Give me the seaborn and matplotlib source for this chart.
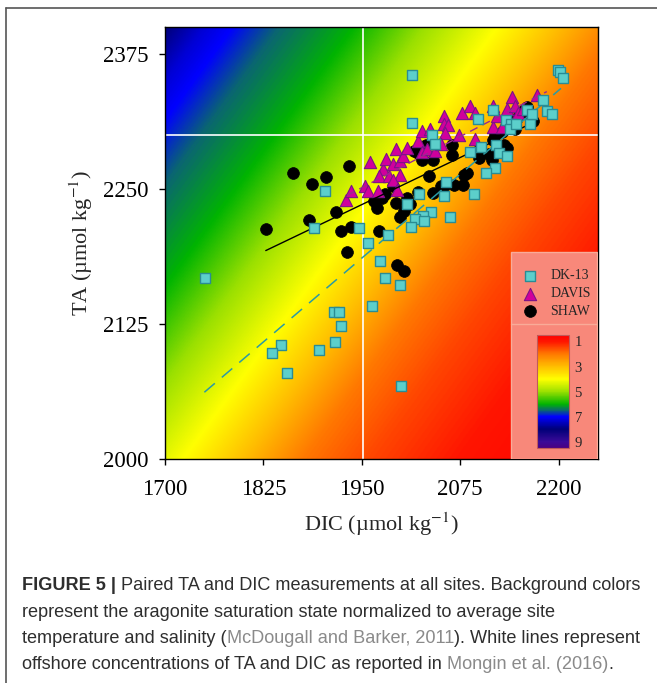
import numpy as np
import pandas as pd
import matplotlib
matplotlib.use("Agg")
import matplotlib.pyplot as plt
import seaborn as sns
from matplotlib.colors import LinearSegmentedColormap, Normalize
from matplotlib.cm import ScalarMappable
from matplotlib.patches import Rectangle
from matplotlib.lines import Line2D

# ---- data (DIC, TA in umol/kg) ----
dk13_dic = [1751, 2014, 2014, 2199, 2202, 2206, 2180, 2185, 2192, 2164, 2160, 2166,
            2117, 2133, 2139, 2138, 2146, 2097, 2039, 2043, 2102, 2087, 2121, 2124,
            2135, 2119, 2108, 2057, 2054, 2093, 2022, 2008, 2038, 2028, 2018, 2029,
            2013, 2062, 1983, 1946, 1903, 1889, 1958, 1973, 1980, 1998, 1963, 1915,
            1921, 1923, 1916, 1896, 1847, 1836, 1855, 2000]
dk13_ta = [2168, 2355, 2311, 2360, 2358, 2353, 2332, 2322, 2319, 2310, 2323, 2319,
           2323, 2314, 2310, 2305, 2310, 2315, 2300, 2292, 2289, 2284, 2291, 2283,
           2280, 2269, 2265, 2256, 2243, 2245, 2245, 2236, 2229, 2225, 2222, 2220,
           2215, 2224, 2207, 2214, 2248, 2214, 2200, 2183, 2168, 2161, 2142, 2136,
           2136, 2123, 2108, 2101, 2106, 2098, 2080, 2068]

davis_dic = [1930, 1936, 1954, 1958, 1971, 1960, 1977, 1972, 1985, 1981, 1990, 1994,
             1999, 2002, 1999, 1990, 1995, 2008, 2021, 2026, 2037, 2026, 2033, 2043,
             2055, 2054, 2060, 2056, 2073, 2077, 2088, 2094, 2094, 2117, 2116, 2128,
             2134, 2141, 2144, 2148, 2155, 2172, 2122, 2050]
davis_ta = [2240, 2248, 2253, 2248, 2248, 2275, 2268, 2262, 2262, 2278, 2273, 2287,
            2276, 2280, 2263, 2258, 2249, 2288, 2294, 2304, 2305, 2284, 2287, 2285,
            2317, 2310, 2309, 2302, 2300, 2320, 2327, 2320, 2296, 2327, 2307, 2307,
            2324, 2335, 2327, 2320, 2324, 2337, 2317, 2292]

shaw_dic = [1828, 1862, 1887, 1905, 1934, 1883, 1917, 1924, 1936, 1931, 1972, 1966,
            1969, 1975, 1979, 1994, 2003, 1999, 2007, 2011, 1995, 2004, 2021, 2041,
            2035, 2027, 2041, 2021, 2032, 2064, 2065, 2051, 2055, 2067, 2078, 2080,
            2083, 2099, 2100, 2115, 2117, 2119, 2130, 2134, 2128, 2144, 2147, 2160,
            2162, 2167, 2155, 2111, 1990, 2016]
shaw_ta = [2213, 2265, 2255, 2261, 2271, 2221, 2229, 2211, 2215, 2192, 2211, 2239,
           2232, 2242, 2245, 2237, 2230, 2224, 2242, 2236, 2180, 2174, 2247, 2246,
           2262, 2277, 2277, 2283, 2291, 2291, 2281, 2253, 2253, 2254, 2254, 2263,
           2265, 2279, 2288, 2277, 2295, 2300, 2291, 2288, 2303, 2305, 2316, 2326,
           2319, 2313, 2322, 2282, 2253, 2285]

# regression lines as drawn in the figure (end points)
dk13_fit_dic = [1750, 2203]
dk13_fit_ta = [2062, 2343]
davis_fit_dic = [1931, 2185]
davis_fit_ta = [2244, 2340]
shaw_fit_dic = [1828, 2158]
shaw_fit_ta = [2193, 2308]

# offshore TA / DIC (white lines)
offshore_dic = 1952
offshore_ta = 2300

# aragonite saturation state against TA - DIC (background)
omega_excess = [-250, -75, 40, 125, 200, 277, 370, 460, 555, 615, 650, 700]
omega_level = [0.5, 1.0, 1.5, 2.0, 3.0, 4.0, 5.0, 6.0, 6.5, 7.0, 7.3, 8.0]

omega_stops = [0.5, 1.0, 2.0, 3.0, 4.0, 5.0, 6.0, 6.5, 7.0, 8.0, 9.0, 9.5]
omega_colors = ["#ff0000", "#ff1500", "#ff7a00", "#ffbe00", "#ffff00", "#9be000",
                "#00b400", "#0a6670", "#0000ff", "#000078", "#3a0a98", "#4b0082"]
cbar_ticks = [1, 3, 5, 7, 9]

x_ticks = [1700, 1825, 1950, 2075, 2200]
y_ticks = [2000, 2125, 2250, 2375]

sns.set_style("ticks")
plt.rcParams["font.family"] = ["Liberation Serif", "DejaVu Serif"]
plt.rcParams["mathtext.fontset"] = "stix"

W, H = 657, 683
fig = plt.figure(figsize=(W / 100, H / 100), dpi=100)
ax = fig.add_axes([165 / W, 1 - 459.3 / H, (598 - 165) / W, (459.3 - 26.7) / H])

# background field
vmin, vmax = 0.5, 9.5
cmap = LinearSegmentedColormap.from_list(
    "omega", [((s - vmin) / (vmax - vmin), c) for s, c in zip(omega_stops, omega_colors)])
norm = Normalize(vmin, vmax)
gd = np.linspace(1700, 2250, 500)
gt = np.linspace(2000, 2400, 500)
D, T = np.meshgrid(gd, gt)
omega = np.interp(T - D, omega_excess, omega_level)
ax.imshow(omega, origin="lower", extent=[1700, 2250, 2000, 2400], aspect="auto",
          cmap=cmap, norm=norm, interpolation="bilinear", zorder=0)

ax.axvline(offshore_dic, color="white", lw=1.2, zorder=1)
ax.axhline(offshore_ta, color="white", lw=1.2, zorder=1)

# points
sns.scatterplot(x=shaw_dic, y=shaw_ta, marker="o", s=72, color="black",
                edgecolor="black", linewidth=0.5, label="SHAW", ax=ax, zorder=3)
sns.scatterplot(x=davis_dic, y=davis_ta, marker="^", s=78, color="#d0009c",
                edgecolor="#7a1488", linewidth=0.8, label="DAVIS", ax=ax, zorder=4)
ax.plot(shaw_fit_dic, shaw_fit_ta, color="black", lw=1, zorder=4.5)
ax.plot(davis_fit_dic, davis_fit_ta, color="#9a2a90", lw=1, ls=(0, (6, 4)), zorder=4.5)
ax.plot(dk13_fit_dic, dk13_fit_ta, color="#2a9aa5", lw=1.1, ls=(0, (9, 6)), zorder=4.5)
sns.scatterplot(x=dk13_dic, y=dk13_ta, marker="s", s=58, color="#5ccfcb",
                edgecolor="#2a8c94", linewidth=1, label="DK-13", ax=ax, zorder=5)

ax.set_xlim(1700, 2250)
ax.set_ylim(2000, 2400)
ax.set_xticks(x_ticks)
ax.set_yticks(y_ticks)
ax.tick_params(direction="out", length=4, width=1, labelsize=16.5, colors="black")
ax.tick_params(axis="x", pad=10)
ax.tick_params(axis="y", pad=8)
for sp in ax.spines.values():
    sp.set_color("black")
    sp.set_linewidth(1)
ax.set_xlabel("DIC (µmol kg$^{-1}$)", fontsize=16, labelpad=8)
ax.set_ylabel("TA (µmol kg$^{-1}$)", fontsize=16, labelpad=6)

# legend / colour key box
box = Rectangle((0.799, 0.0), 0.199, 0.479, transform=ax.transAxes, facecolor="#f8887a",
                edgecolor="#f9ab98", lw=1, zorder=6)
ax.add_patch(box)
ax.add_line(Line2D([0.799, 0.998], [0.313, 0.313], transform=ax.transAxes,
                   color="#f9ab98", lw=1, zorder=7))
h, l = ax.get_legend_handles_labels()
order = [l.index("DK-13"), l.index("DAVIS"), l.index("SHAW")]
leg = ax.legend([h[i] for i in order], [l[i] for i in order], loc="upper left",
                bbox_to_anchor=(0.81, 0.455), frameon=False, fontsize=10,
                handlelength=1.0, handletextpad=1.0, labelspacing=0.35, borderpad=0)
leg.set_zorder(8)

cax = ax.inset_axes([0.859, 0.026, 0.074, 0.261])
cax.set_zorder(8)
cb = fig.colorbar(ScalarMappable(norm=norm, cmap=cmap), cax=cax, ticks=cbar_ticks)
cax.invert_yaxis()
cb.outline.set_edgecolor("#c05a5a")
cb.outline.set_linewidth(0.8)
cax.tick_params(length=0, labelsize=10.5, pad=4)

# figure frame
fig.add_artist(Line2D([6 / W, 1], [1 - 8 / H, 1 - 8 / H], color="#555555", lw=1.2))
fig.add_artist(Line2D([6 / W, 6 / W], [0, 1 - 8 / H], color="#555555", lw=1.2))

# caption
cap_font = ["Liberation Sans", "DejaVu Sans"]
cap_size = 13.1
dark, link = "#2e2e2e", "#8a8a8a"
caption = [
    (590, [("FIGURE 5 |", dark, "bold", False), ("Paired TA and DIC measurements at all sites. Background colors", dark, "normal", True)]),
    (617, [("represent the aragonite saturation state normalized to average site", dark, "normal", False)]),
    (643, [("temperature and salinity (", dark, "normal", False), ("McDougall and Barker, 2011", link, "normal", False),
           ("). White lines represent", dark, "normal", False)]),
    (669, [("offshore concentrations of TA and DIC as reported in", dark, "normal", False),
           ("Mongin et al. (2016)", link, "normal", True), (".", dark, "normal", False)]),
]
renderer = fig.canvas.get_renderer()
probe1 = fig.text(0, 0, "a a", fontsize=cap_size, family=cap_font)
probe2 = fig.text(0, 0, "aa", fontsize=cap_size, family=cap_font)
space = probe1.get_window_extent(renderer).width - probe2.get_window_extent(renderer).width
probe1.remove()
probe2.remove()
for y, parts in caption:
    x = 22
    for text, color, weight, lead_space in parts:
        if lead_space:
            x += space
        t = fig.text(x / W, 1 - y / H, text, fontsize=cap_size, family=cap_font,
                     color=color, fontweight=weight, va="baseline", ha="left")
        x += t.get_window_extent(renderer).width

fig.savefig("out.png", dpi=100)
